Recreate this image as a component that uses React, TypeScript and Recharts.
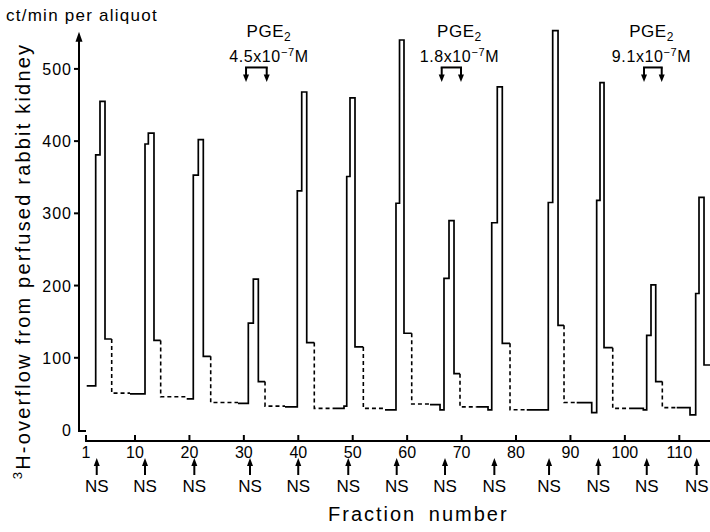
import React from 'react';
import { LineChart, Line, XAxis, YAxis, ReferenceLine, ReferenceDot } from 'recharts';

const FONT = "'Liberation Sans', Arial, Helvetica, sans-serif";

// [fraction number, ct/min per aliquot] — solid parts of the step trace (null = break)
const solidTrace: [number, number | null][] = [
  [1.13, 61], [2.78, 381], [3.57, 455], [4.49, 126], [5.72, 126], [7, null],
  [9.08, 50], [11.84, 396], [12.45, 411], [13.49, 124], [14.72, 124], [16, null],
  [19.5, 43], [20.71, 353], [21.63, 402], [22.55, 102], [23.91, 102], [25, null],
  [28.93, 37], [30.82, 148], [31.74, 209], [32.66, 67], [33.89, 67], [35, null],
  [37.56, 32], [39.82, 331], [40.63, 468], [41.55, 121], [42.94, 121], [44, null],
  [46.75, 30], [48.4, 33], [48.9, 351], [49.5, 460], [50.42, 115], [51.95, 115], [53, null],
  [55.93, 28], [57.95, 314], [58.6, 540], [59.42, 134], [60.84, 134], [62, null],
  [64.2, 35], [66.04, 28], [66.77, 210], [67.69, 290], [68.61, 78], [69.71, 78], [71, null],
  [72.78, 32], [74.86, 28], [75.54, 287], [76.56, 475], [77.48, 120], [78.9, 120], [80, null],
  [81.97, 28], [85.93, 315], [86.74, 553], [87.72, 145], [88.82, 145], [90, null],
  [91.15, 38], [93.91, 24], [94.82, 318], [95.43, 481], [96.17, 114], [97.77, 114], [99, null],
  [100.94, 30], [103.39, 28], [104.01, 131], [104.8, 201], [105.67, 67], [106.88, 67], [108, null],
  [109.52, 31], [111.97, 21], [113.01, 189], [113.62, 322], [114.54, 90], [115.64, 90],
];

// dashed (interpolated) parts of the trace
const dashedTrace: [number, number | null][] = [
  [5.72, 126], [9.08, 51], [9.5, null],
  [14.72, 124], [19.5, 46], [20, null],
  [23.91, 102], [28.93, 38], [29.5, null],
  [33.89, 67], [37.56, 33], [38, null],
  [42.94, 121], [46.75, 30], [47, null],
  [51.95, 115], [55.93, 30], [56.5, null],
  [60.84, 134], [64.2, 36], [65, null],
  [69.71, 78], [72.78, 32], [73, null],
  [78.9, 120], [81.97, 28], [82.5, null],
  [88.82, 145], [91.15, 38], [92, null],
  [97.77, 114], [100.94, 30], [101.5, null],
  [106.88, 67], [109.52, 31],
];

const xTicks = [1, 10, 20, 30, 40, 50, 60, 70, 80, 90, 100, 110];
const yTicks = [0, 100, 200, 300, 400, 500];
const nsFractions = [2.97, 11.84, 20.9, 31.13, 39.99, 49.18, 58.08, 66.96, 76.02, 86.07, 95.13, 104.02, 113.2];
const pgeConcentrations = ['4.5', '1.8', '9.1'];
const pgeStart = [30.4, 66.35, 103.52];
const pgeEnd = [34.2, 69.89, 106.77];
const pgeLabelCenter = [34.6, 69.6, 104.9];

const X_MIN = -0.287;
const X_MAX = 115.64;
const Y_MIN = -15.23;
const Y_MAX = 580.18;
const AXIS_TOP = 551.5;
const PGE_TEXT_Y = 544;
const PGE_BRACKET_Y = 502;

const solidData = solidTrace.map(([f, v]) => ({ f, v }));
const dashedData = dashedTrace.map(([f, v]) => ({ f, v }));

const XTick = (props: any) => {
  const { x, y, payload } = props;
  return (
    <g>
      <line x1={x} y1={y} x2={x} y2={y - 6} stroke="#000" strokeWidth={2} />
      <text x={x} y={y + 17} textAnchor="middle" fontSize={16} fontFamily={FONT} fill="#000">
        {payload.value}
      </text>
    </g>
  );
};

const YTick = (props: any) => {
  const { x, y, payload } = props;
  const isZero = payload.value === 0;
  return (
    <g>
      {isZero ? (
        <line x1={x - 1} y1={y + 1} x2={x + 7} y2={y + 1} stroke="#000" strokeWidth={2} />
      ) : (
        <line x1={x - 5} y1={y} x2={x} y2={y} stroke="#000" strokeWidth={2} />
      )}
      <text x={x - 7} y={y + 6} textAnchor="end" fontSize={16} letterSpacing={1} fontFamily={FONT} fill="#000">
        {payload.value}
      </text>
    </g>
  );
};

const YAxisArrow = (props: any) => {
  const { x1, y1, x2, y2 } = props;
  return (
    <g>
      <line x1={x1} y1={y1 + 1} x2={x2} y2={y2 + 8} stroke="#000" strokeWidth={2} />
      <polygon points={`${x2},${y2} ${x2 - 3.5},${y2 + 10} ${x2 + 3.5},${y2 + 10}`} fill="#000" />
    </g>
  );
};

const PlainLine = (props: any) => {
  const { x1, y1, x2, y2 } = props;
  return <line x1={x1} y1={y1} x2={x2} y2={y2} stroke="#000" strokeWidth={2} />;
};

const Bracket = (props: any) => {
  const { x1, y1, x2 } = props;
  const arrow = (x: number) => (
    <g key={x}>
      <line x1={x} y1={y1} x2={x} y2={y1 + 8} stroke="#000" strokeWidth={2} />
      <polygon points={`${x - 3},${y1 + 7} ${x + 3},${y1 + 7} ${x},${y1 + 14.5}`} fill="#000" />
    </g>
  );
  return (
    <g>
      <line x1={x1 - 1} y1={y1} x2={x2 + 1} y2={y1} stroke="#000" strokeWidth={2} />
      {arrow(x1)}
      {arrow(x2)}
    </g>
  );
};

const makePgeLabel = (conc: string) => (props: any) => {
  const { cx, cy } = props;
  return (
    <g fontFamily={FONT} fill="#000">
      <text x={cx} y={cy} textAnchor="middle" fontSize={17} letterSpacing={0.5}>
        PGE<tspan fontSize={12} dy={4}>2</tspan>
      </text>
      <text x={cx} y={cy + 24.5} textAnchor="middle" fontSize={16} letterSpacing={0.6}>
        {conc}x10<tspan fontSize={11} dy={-6}>−7</tspan>
        <tspan dy={6} fontSize={16}>M</tspan>
      </text>
    </g>
  );
};

const NSArrow = (props: any) => {
  const { cx, cy } = props;
  return (
    <g>
      <polygon points={`${cx},${cy + 17} ${cx - 3},${cy + 25} ${cx + 3},${cy + 25}`} fill="#000" />
      <line x1={cx} y1={cy + 23} x2={cx} y2={cy + 34} stroke="#000" strokeWidth={2} />
      <text x={cx} y={cy + 51} textAnchor="middle" fontSize={17} fontFamily={FONT} fill="#000">
        NS
      </text>
    </g>
  );
};

export default function App() {
  return (
    <div style={{ position: 'absolute', left: 0, top: 0, width: 710, height: 532, background: '#fff' }}>
      <LineChart width={710} height={532} margin={{ top: 11, right: 0, bottom: 61, left: 19 }}>
        <XAxis
          type="number"
          dataKey="f"
          domain={[X_MIN, X_MAX]}
          allowDataOverflow
          ticks={xTicks}
          interval={0}
          axisLine={false}
          tickLine={false}
          tickSize={0}
          tickMargin={0}
          height={30}
          tick={<XTick />}
        />
        <YAxis
          type="number"
          domain={[Y_MIN, Y_MAX]}
          allowDataOverflow
          ticks={yTicks}
          interval={0}
          axisLine={false}
          tickLine={false}
          tickSize={0}
          tickMargin={0}
          width={60}
          tick={<YTick />}
        />
        <Line
          data={solidData}
          dataKey="v"
          type="stepAfter"
          stroke="#000"
          strokeWidth={1.7}
          dot={false}
          activeDot={false}
          connectNulls={false}
          isAnimationActive={false}
        />
        <Line
          data={dashedData}
          dataKey="v"
          type="stepBefore"
          stroke="#000"
          strokeWidth={1.6}
          strokeDasharray="4 3"
          dot={false}
          activeDot={false}
          connectNulls={false}
          isAnimationActive={false}
        />
        <ReferenceLine
          segment={[{ x: X_MIN, y: 0 }, { x: X_MIN, y: AXIS_TOP }]}
          ifOverflow="visible"
          shape={YAxisArrow}
        />
        <ReferenceLine
          segment={[{ x: 0.82, y: Y_MIN }, { x: X_MAX, y: Y_MIN }]}
          ifOverflow="visible"
          shape={PlainLine}
        />
        {pgeStart.map((s, i) => (
          <ReferenceLine
            key={`br${i}`}
            segment={[{ x: s, y: PGE_BRACKET_Y }, { x: pgeEnd[i], y: PGE_BRACKET_Y }]}
            ifOverflow="visible"
            shape={Bracket}
          />
        ))}
        {pgeConcentrations.map((c, i) => (
          <ReferenceDot
            key={`pl${i}`}
            x={pgeLabelCenter[i]}
            y={PGE_TEXT_Y}
            ifOverflow="visible"
            shape={makePgeLabel(c)}
          />
        ))}
        {nsFractions.map((f, i) => (
          <ReferenceDot key={`ns${i}`} x={f} y={Y_MIN} ifOverflow="visible" shape={NSArrow} />
        ))}
      </LineChart>
      <svg
        width={710}
        height={532}
        style={{ position: 'absolute', left: 0, top: 0, pointerEvents: 'none' }}
        fontFamily={FONT}
      >
        <text x={6} y={20.5} fontSize={17} letterSpacing={1.25} fill="#000">
          ct/min per aliquot
        </text>
        <text
          x={29.5}
          y={261}
          transform="rotate(-90, 29.5, 261)"
          textAnchor="middle"
          fontSize={20}
          letterSpacing={2.2}
          fill="#000"
        >
          <tspan fontSize={13} dy={-8}>3</tspan>
          <tspan dy={8}>H-overflow from perfused rabbit kidney</tspan>
        </text>
        <text x={328} y={521} fontSize={20} letterSpacing={2} wordSpacing={5} fill="#000">
          Fraction number
        </text>
      </svg>
    </div>
  );
}
